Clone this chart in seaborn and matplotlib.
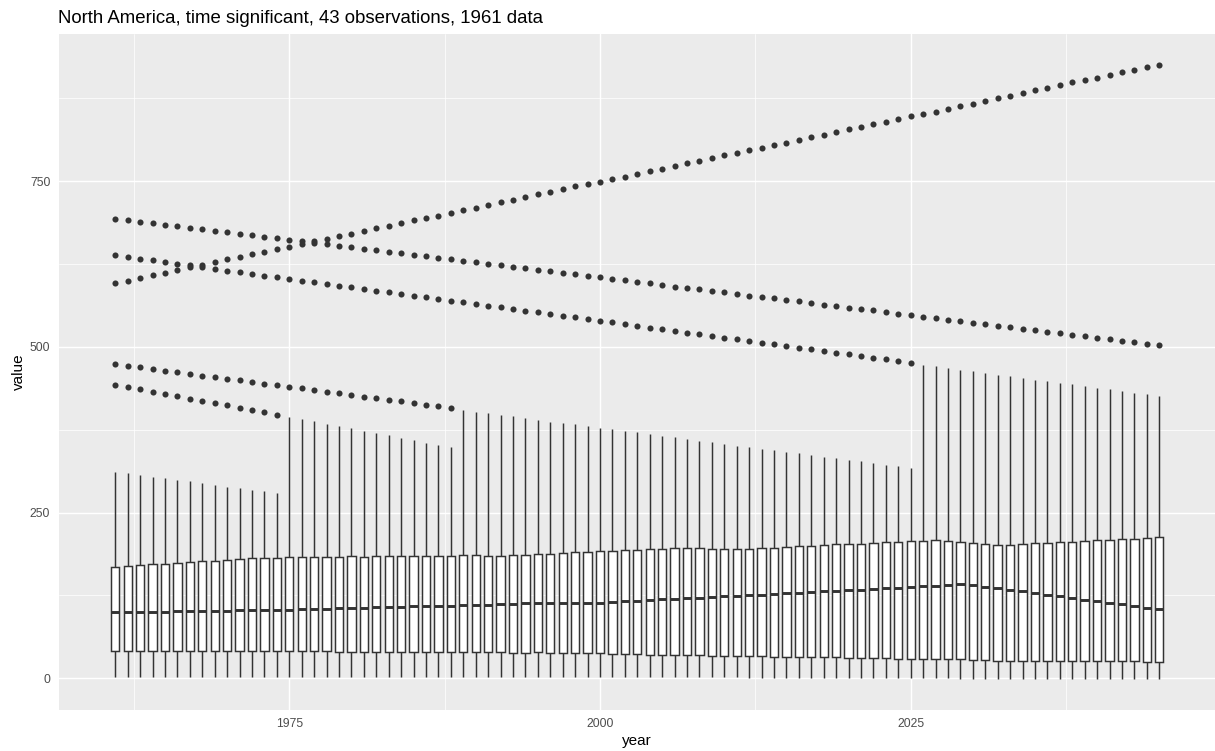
import numpy as np
import pandas as pd
import matplotlib
matplotlib.use("Agg")
import matplotlib.pyplot as plt
import seaborn as sns

# ---------------- data ----------------
years = list(range(1961, 2046))
N_OBS = 43
TITLE = "North America, time significant, 43 observations, 1961 data"

# third quartile (top of box)
q3 = [168.0, 169.5, 171.0, 172.1, 173.1, 174.1, 175.6, 176.6, 177.6, 179.1, 180.1, 181.6, 181.6, 181.6, 182.4, 182.6, 182.6,
      183.1, 183.6, 184.1, 183.6, 184.1, 184.1, 184.6, 184.6, 184.6, 185.1, 185.1, 185.6, 185.6, 185.1, 184.6, 185.6, 186.1,
      187.1, 188.1, 189.7, 190.7, 191.2, 192.2, 192.7, 193.7, 194.2, 195.2, 195.7, 196.7, 197.2, 196.2, 195.7, 194.7, 194.7,
      195.7, 196.7, 197.2, 198.2, 199.2, 200.2, 201.2, 202.3, 202.8, 203.3, 204.3, 205.3, 205.8, 206.8, 207.3, 208.3, 207.3,
      205.3, 204.3, 202.8, 201.8, 201.8, 202.8, 203.8, 204.8, 205.8, 206.3, 207.3, 208.3, 208.8, 209.8, 210.8, 211.8, 213.3]

# median
median = [100.1, 100.1, 100.1, 100.6, 100.6, 101.1, 101.1, 101.6, 102.1, 102.1, 102.6, 102.6, 103.1, 103.1, 103.6, 104.1, 104.6,
          105.1, 105.6, 106.1, 106.1, 107.2, 107.2, 108.2, 108.7, 109.2, 109.2, 109.7, 110.2, 110.7, 111.2, 111.7, 112.2, 113.2,
          113.2, 113.7, 114.2, 113.7, 113.7, 114.2, 115.2, 116.2, 117.2, 118.2, 119.2, 119.7, 120.7, 121.8, 122.8, 123.8, 124.3,
          125.3, 126.3, 127.3, 128.3, 129.3, 130.3, 131.3, 131.9, 132.9, 133.9, 134.9, 135.9, 136.9, 137.9, 138.9, 139.9, 140.9,
          141.9, 140.9, 138.4, 135.9, 133.4, 131.3, 129.3, 126.3, 123.8, 121.3, 118.7, 116.7, 114.2, 111.7, 109.2, 106.7, 104.2]

# first quartile (bottom of box)
q1 = [41.7, 41.7, 41.7, 41.7, 41.7, 41.7, 41.7, 41.2, 41.2, 41.2, 41.2, 40.7, 40.7, 40.7, 40.7, 40.7, 40.7,
      40.7, 40.2, 40.2, 40.2, 40.2, 39.7, 39.7, 39.7, 39.7, 39.2, 39.2, 39.2, 39.2, 39.2, 39.2, 38.6, 38.6,
      38.9, 38.6, 38.6, 38.1, 38.1, 37.6, 37.1, 36.6, 36.1, 35.6, 35.6, 35.1, 34.6, 34.6, 34.1, 33.6, 33.6,
      33.6, 33.1, 32.6, 32.6, 32.1, 32.1, 31.6, 31.6, 31.1, 31.1, 30.1, 30.1, 29.6, 29.6, 29.1, 28.6, 28.6,
      28.4, 27.6, 27.1, 26.6, 26.6, 26.6, 26.6, 26.1, 26.1, 25.6, 25.6, 25.6, 25.6, 25.6, 25.6, 25.1, 25.1]

# lower whisker end
whisker_low = [2.5] * 43 + [2.0] * 8 + [1.0] * 8 + [0.0] * 9 + [-1.5] * 17

# upper whisker end
whisker_high = [311.9, 309.4, 306.9, 304.4, 301.9, 299.4, 296.9, 294.4, 291.9, 289.3, 286.8, 284.3, 281.8, 279.3,
                394.0, 391.5, 387.5, 384.0, 380.4, 376.9, 373.4, 369.8, 366.3, 362.8, 359.3, 355.7, 352.2, 348.7,
                404.5, 402.5, 400.0, 397.5, 395.0, 392.4, 389.9, 387.4, 384.9, 382.9, 380.4, 377.9, 375.4, 372.9,
                370.9, 368.4, 365.9, 363.3, 360.8, 358.3, 355.8, 353.3, 350.8, 348.8, 346.3, 343.8, 341.3, 339.3,
                336.8, 334.2, 331.7, 329.7, 327.6, 325.0, 322.5, 320.0, 317.5,
                473.0, 470.4, 468.0, 465.5, 463.0, 460.5, 458.0, 455.4, 452.9, 450.4, 447.9, 445.4, 443.4, 440.9,
                438.4, 435.9, 433.4, 430.9, 428.4, 425.8]

# outliers, one entry per year from 1961 for as long as the point is an outlier
outlier_rising = [596, 600, 604, 608, 612, 616, 620, 624, 628, 632, 636, 640, 643, 647, 651, 655, 659, 663, 667, 671,
                  675, 679, 683, 687, 691, 694, 698, 702, 706, 710, 714, 718, 722, 726, 730, 734, 738, 742, 746, 749,
                  753, 757, 761, 765, 769, 773, 777, 781, 785, 789, 793, 797, 800, 804, 808, 812, 816, 820, 824, 828,
                  832, 836, 840, 844, 848, 851, 855, 859, 863, 867, 871, 875, 879, 883, 887, 891, 895, 899, 902, 906,
                  910, 914, 918, 922, 926]
outlier_high = [693.1, 690.8, 688.6, 686.3, 684.0, 681.8, 679.5, 677.2, 675.0, 672.7, 670.4, 668.2, 665.9, 663.6, 661.3,
                659.1, 656.8, 654.6, 652.3, 650.0, 647.8, 645.5, 643.2, 641.0, 638.7, 636.4, 634.2, 631.9, 629.6, 627.4,
                625.1, 622.9, 620.6, 618.3, 616.1, 613.8, 611.5, 609.3, 607.0, 604.7, 602.5, 600.2, 597.9, 595.7, 593.4,
                591.1, 588.9, 586.6, 584.3, 582.1, 579.8, 577.5, 575.3, 573.0, 570.7, 568.5, 566.2, 563.9, 561.7, 559.4,
                557.1, 554.9, 552.6, 550.3, 548.1, 545.8, 543.5, 541.3, 539.0, 536.7, 534.5, 532.2, 529.9, 527.7, 525.4,
                523.1, 520.9, 518.6, 516.3, 514.1, 511.8, 509.5, 507.3, 505.0, 502.8]
outlier_mid = [638.0, 635.5, 632.9, 630.4, 627.9, 625.3, 622.8, 620.3, 617.8, 615.2, 612.7, 610.2, 607.6, 605.1, 602.6,
               600.0, 597.5, 595.0, 592.4, 589.9, 587.4, 584.8, 582.3, 579.8, 577.3, 574.7, 572.2, 569.7, 567.1, 564.6,
               562.1, 559.5, 557.0, 554.5, 551.9, 549.4, 546.9, 544.4, 541.8, 539.3, 536.8, 534.2, 531.7, 529.2, 526.6,
               524.1, 521.6, 519.0, 516.5, 514.0, 511.5, 508.9, 506.4, 503.9, 501.3, 498.8, 496.3, 493.7, 491.2, 488.7,
               486.1, 483.6, 481.1, 478.6, 476.0]
outlier_low = [474.0, 471.5, 469.0, 466.4, 463.9, 461.4, 458.9, 456.4, 453.9, 451.3, 449.3, 446.8, 444.3, 441.8,
               439.8, 437.3, 434.7, 432.2, 429.7, 427.2, 424.7, 422.2, 419.6, 417.6, 415.1, 412.6, 410.1, 408.1]
outlier_steep = [442.8, 439.3, 435.8, 432.2, 428.7, 425.2, 421.6, 418.1, 414.6, 411.6, 408.1, 404.6, 401.0, 397.5]

# ---------------- build 43 observations per year matching the read box statistics ----------------
rows = []
for i, yr in enumerate(years):
    outs = [outlier_rising[i], outlier_high[i]]
    for ser in (outlier_mid, outlier_low, outlier_steep):
        if i < len(ser):
            outs.append(ser[i])
    k = len(outs)
    s = np.empty(N_OBS)
    s[0] = whisker_low[i]
    s[1:10] = np.linspace(whisker_low[i], q1[i], 11)[1:-1]
    s[10] = s[11] = q1[i]
    s[12:21] = np.linspace(q1[i], median[i], 11)[1:-1]
    s[21] = median[i]
    s[22:31] = np.linspace(median[i], q3[i], 11)[1:-1]
    s[31] = s[32] = q3[i]
    top = N_OBS - 1 - k
    s[33:top] = np.linspace(q3[i], whisker_high[i], top - 33 + 2)[1:-1]
    s[top] = whisker_high[i]
    s[top + 1:] = sorted(outs)
    for v in s:
        rows.append({"year": yr, "value": float(v)})
df = pd.DataFrame(rows)

# ---------------- style (ggplot2 theme_gray look) ----------------
sns.set_theme(style="darkgrid")
plt.rcParams["font.family"] = ["Liberation Sans", "DejaVu Sans"]
plt.rcParams["axes.facecolor"] = "#EBEBEB"
plt.rcParams["grid.color"] = "white"

W, H = 1215, 751
fig = plt.figure(figsize=(W / 100, H / 100), dpi=100)
pl, pr, pt, pb = 58.5, 1216.0, 33.8, 710.0
ax = fig.add_axes([pl / W, 1 - pb / H, (pr - pl) / W, (pb - pt) / H])

box_w = 0.67
sns.boxplot(data=df, x="year", y="value", native_scale=True, width=box_w,
            color="white", saturation=1, linecolor="#333333", linewidth=1.07,
            fliersize=4.4, showcaps=False,
            flierprops=dict(marker="o", markerfacecolor="#333333",
                            markeredgecolor="#333333", markeredgewidth=0),
            medianprops=dict(linewidth=2.1, color="#333333"),
            ax=ax)

# limits with ggplot-like 5% expansion
xmin, xmax = years[0] - box_w / 2, years[-1] + box_w / 2
xr = xmax - xmin
ax.set_xlim(xmin - 0.05 * xr, xmax + 0.05 * xr)
ymin, ymax = df["value"].min(), df["value"].max()
yr_ = ymax - ymin
ax.set_ylim(ymin - 0.05 * yr_, ymax + 0.05 * yr_)

ax.set_xticks([1975, 2000, 2025])
ax.set_xticklabels(["1975", "2000", "2025"])
ax.set_xticks([1962.5, 1987.5, 2012.5, 2037.5], minor=True)
ax.set_yticks([0, 250, 500, 750])
ax.set_yticklabels(["0", "250", "500", "750"])
ax.set_yticks([125, 375, 625, 875], minor=True)

ax.grid(which="major", color="white", linewidth=1.07)
ax.grid(which="minor", color="white", linewidth=0.53)
ax.set_axisbelow(True)
for sp in ax.spines.values():
    sp.set_visible(False)
ax.tick_params(which="major", length=3.7, width=1.07, color="#333333",
               labelcolor="#4D4D4D", labelsize=8.8, pad=2.2)
ax.tick_params(which="minor", length=0)

ax.set_xlabel("year", fontsize=11, color="black", labelpad=3)
ax.set_ylabel("value", fontsize=11, color="black", labelpad=3)
ax.set_title(TITLE, loc="left", fontsize=13.4, color="black", pad=7.5)

fig.savefig("out.png", dpi=100)
